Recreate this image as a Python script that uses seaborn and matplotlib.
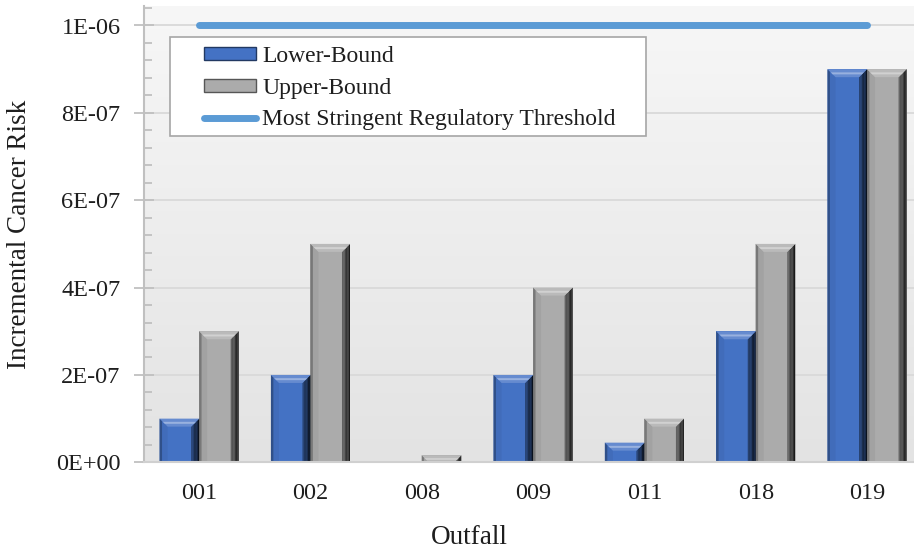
import numpy as np
import pandas as pd
import matplotlib
matplotlib.use("Agg")
import matplotlib.pyplot as plt
import seaborn as sns
from matplotlib.patches import Polygon, Rectangle, Patch
from matplotlib.lines import Line2D
from matplotlib.ticker import FixedLocator, FixedFormatter, MultipleLocator
import matplotlib.colors as mcolors

# ---------------- data ----------------
outfalls = ["001", "002", "008", "009", "011", "018", "019"]
lower_bound = [1e-7, 2e-7, 3e-9, 2e-7, 4.5e-8, 3e-7, 9e-7]
upper_bound = [3e-7, 5e-7, 1.6e-8, 4e-7, 1e-7, 5e-7, 9e-7]
threshold = [1e-6] * len(outfalls)
series_names = ["Lower-Bound", "Upper-Bound"]
threshold_name = "Most Stringent Regulatory Threshold"
ytick_values = [0, 2e-7, 4e-7, 6e-7, 8e-7, 1e-6]
ytick_labels = ["0E+00", "2E-07", "4E-07", "6E-07", "8E-07", "1E-06"]
x_title = "Outfall"
y_title = "Incremental Cancer Risk"

df = pd.DataFrame({
    "Outfall": outfalls * 2,
    "Risk": lower_bound + upper_bound,
    "Series": [series_names[0]] * len(outfalls) + [series_names[1]] * len(outfalls),
})

# ---------------- style ----------------
sns.set_theme(style="white")
plt.rcParams["font.family"] = ["Liberation Serif", "DejaVu Serif"]
FS_TICK = 17.5
FS_LEG = 17
FS_TITLE = 19.5
blue = "#4472C4"
gray = "#ABABAB"
line_c = "#5B9BD5"
txt_c = "#1e1e1e"

W, H = 914, 552
fig = plt.figure(figsize=(W / 100, H / 100), dpi=100)
ax_l, ax_r, ax_t, ax_b = 143.5, 922.7, 6, 462.3
ax = fig.add_axes([ax_l / W, 1 - ax_b / H, (ax_r - ax_l) / W, (ax_b - ax_t) / H])

# gradient background
grad = np.linspace(0, 1, 256).reshape(-1, 1)
cmap_bg = mcolors.LinearSegmentedColormap.from_list("bg", ["#e3e3e3", "#f7f7f7"])
ax.imshow(grad, extent=[0, 1, 0, 1], transform=ax.transAxes, aspect="auto",
          cmap=cmap_bg, origin="lower", zorder=-2)

sns.barplot(data=df, x="Outfall", y="Risk", hue="Series", palette=[blue, gray],
            width=0.71, gap=0, saturation=1, ax=ax, legend=False, zorder=2,
            linewidth=0)

sns.lineplot(x=np.arange(len(outfalls)), y=threshold, ax=ax, color=line_c,
             linewidth=5, zorder=4, solid_capstyle="round")

ymax = 1e-6 + (25.5 - ax_t) / ((ax_b - 25.5) / 1e-6)
ax.set_xlim(-0.5, len(outfalls) - 0.5)
ax.set_ylim(0, ymax)

# bevel decoration derived from the drawn bar patches
ax_w_px = ax_r - ax_l
ax_h_px = ax_b - ax_t
ux = (len(outfalls)) / ax_w_px
uy = ymax / ax_h_px
bpx = 8.0


def shade(c, f):
    r, g, b = mcolors.to_rgb(c)
    if f >= 0:
        return (r + (1 - r) * f, g + (1 - g) * f, b + (1 - b) * f)
    return (r * (1 + f), g * (1 + f), b * (1 + f))


bars = [p for p in ax.patches if isinstance(p, Rectangle) and p.get_height() > 0]
for p in bars:
    x, y, w, h = p.get_x(), p.get_y(), p.get_width(), p.get_height()
    if h < 3 * uy:
        continue
    c = p.get_facecolor()
    bx = bpx * ux
    by = min(bpx * uy, h)
    bxe = bx * by / (bpx * uy)
    top = y + h
    # left bevel (thin darker edge then face)
    ax.add_patch(Polygon([(x, y), (x, top), (x + bxe, top - by), (x + bxe, y)],
                         closed=True, facecolor=shade(c, -0.05), lw=0, zorder=2.1))
    ax.add_patch(Polygon([(x, y), (x, top), (x + bxe * 0.3, top - by * 0.3), (x + bxe * 0.3, y)],
                         closed=True, facecolor=shade(c, -0.3), lw=0, zorder=2.15))
    # right bevel gradient strips
    n = 6
    for i in range(n):
        f0, f1 = i / n, (i + 1) / n
        xa, xb2 = x + w - bxe * (1 - f0), x + w - bxe * (1 - f1)
        ya, yb2 = top - by * (1 - f0), top - by * (1 - f1)
        ax.add_patch(Polygon([(xa, y), (xa, ya), (xb2, yb2), (xb2, y)],
                             closed=True, facecolor=shade(c, -0.35 - 0.5 * f1),
                             lw=0, zorder=2.2))
    # top bevel
    ax.add_patch(Polygon([(x, top), (x + w, top), (x + w - bxe, top - by),
                          (x + bxe, top - by)],
                         closed=True, facecolor=shade(c, 0.18), lw=0, zorder=2.3))
    if by > 3 * uy:
        ax.add_patch(Polygon([(x + bxe * 0.4, top - by * 0.4), (x + w - bxe * 0.4, top - by * 0.4),
                              (x + w - bxe * 0.65, top - by * 0.65), (x + bxe * 0.65, top - by * 0.65)],
                             closed=True, facecolor=shade(c, 0.45), lw=0, zorder=2.4))

# axes styling
ax.yaxis.set_major_locator(FixedLocator(ytick_values))
ax.yaxis.set_major_formatter(FixedFormatter(ytick_labels))
ax.yaxis.set_minor_locator(MultipleLocator(4e-8))
ax.grid(axis="y", which="major", color="#d9d9d9", linewidth=1.3)
ax.grid(axis="x", visible=False)
ax.set_axisbelow(True)
for s in ["top", "right"]:
    ax.spines[s].set_visible(False)
ax.spines["left"].set_color("#c0c0c0")
ax.spines["left"].set_linewidth(1.5)
ax.spines["bottom"].set_color("#d0d0d0")
ax.spines["bottom"].set_linewidth(1.5)
ax.tick_params(axis="y", which="major", direction="inout", length=14, width=1.3,
               color="#c0c0c0", labelsize=FS_TICK, pad=9.5, left=True)
ax.tick_params(axis="y", which="minor", direction="in", length=6, width=1.3,
               color="#c0c0c0", left=True)
ax.tick_params(axis="x", length=0, labelsize=FS_TICK, pad=15)
for t in ax.get_xticklabels() + ax.get_yticklabels():
    t.set_color(txt_c)
ax.set_xlabel("")
ax.set_ylabel("")

fig.text(469 / W, 1 - 537 / H, x_title, ha="center", va="center", fontsize=FS_TITLE, color=txt_c)
fig.text(20 / W, 1 - 234 / H, y_title, ha="center", va="center", rotation=90,
         fontsize=FS_TITLE, color=txt_c)

# legend
fig.patches.append(Rectangle((170 / W, 1 - 136 / H), (646 - 170) / W, (136 - 37) / H,
                             transform=fig.transFigure, facecolor="white",
                             edgecolor="#a6a6a6", linewidth=1.2, zorder=5))
handles = [Patch(facecolor=blue, edgecolor=shade(blue, -0.5), linewidth=1),
           Patch(facecolor=gray, edgecolor=shade(gray, -0.5), linewidth=1),
           Line2D([0], [0], color=line_c, linewidth=5, solid_capstyle="round")]
bp = 0.3
bp_px = bp * FS_LEG * 100 / 72
leg = fig.legend(handles, series_names + [threshold_name], loc="upper left",
                 bbox_to_anchor=((204 - bp_px) / W, 1 - 39 / H), frameon=False,
                 fontsize=FS_LEG, handlelength=2.2, handleheight=0.45, handletextpad=0.27,
                 labelspacing=0.45, borderpad=bp, borderaxespad=0)
leg.set_zorder(6)
for t in leg.get_texts():
    t.set_color(txt_c)

fig.savefig("out.png", dpi=100)
